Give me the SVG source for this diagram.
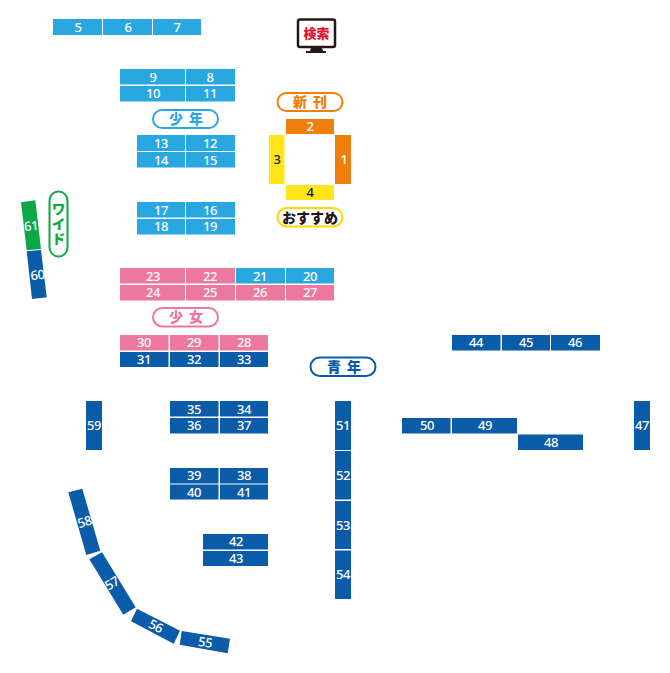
<svg xmlns="http://www.w3.org/2000/svg" width="670" height="673" viewBox="0 0 670 673">
<style>
text{font-family:"Noto Sans","Noto Sans CJK JP",sans-serif;font-size:13px;font-weight:500;text-anchor:middle;fill:#fff;letter-spacing:-0.4px}
.c{fill:#29a7e1}.n{fill:#0a5ba8}.p{fill:#ec789f}.o{fill:#ee7f0a}.y{fill:#ffe61a}.g{fill:#0ca848}
.k{fill:#231815}
.pill{fill:#fff;stroke-width:2}
text.lab{font-family:"Noto Sans CJK JP",sans-serif;font-size:14px;font-weight:900;letter-spacing:0;word-spacing:3px}
</style>
<rect width="670" height="673" fill="#fff"/>
<g id="nodes">
<g id="s5"><rect class="c" x="53" y="19" width="49" height="16"/><text x="78" y="32">5</text></g>
<g id="s6"><rect class="c" x="103" y="19" width="49" height="16"/><text x="128" y="32">6</text></g>
<g id="s7"><rect class="c" x="153" y="19" width="48" height="16"/><text x="177" y="32">7</text></g>
<g id="s9"><rect class="c" x="120" y="69" width="65" height="15.5"/><text x="153" y="81.500">9</text></g>
<g id="s8"><rect class="c" x="186" y="69" width="49" height="15.5"/><text x="210" y="81.500">8</text></g>
<g id="s10"><rect class="c" x="120" y="86" width="65" height="15.500"/><text x="153" y="98">10</text></g>
<g id="s11"><rect class="c" x="186" y="86" width="49" height="15.500"/><text x="210" y="98">11</text></g>
<g id="s13"><rect class="c" x="137" y="135" width="48" height="16"/><text x="161" y="148">13</text></g>
<g id="s12"><rect class="c" x="186" y="135" width="49" height="16"/><text x="210" y="148">12</text></g>
<g id="s14"><rect class="c" x="137" y="152" width="48" height="15.500"/><text x="161" y="164.500">14</text></g>
<g id="s15"><rect class="c" x="186" y="152" width="49" height="15.500"/><text x="210" y="164.500">15</text></g>
<g id="s17"><rect class="c" x="137" y="202" width="48" height="15.500"/><text x="161" y="214.500">17</text></g>
<g id="s16"><rect class="c" x="186" y="202" width="49" height="15.500"/><text x="210" y="214.500">16</text></g>
<g id="s18"><rect class="c" x="137" y="219" width="48" height="15.500"/><text x="161" y="231">18</text></g>
<g id="s19"><rect class="c" x="186" y="219" width="49" height="15.500"/><text x="210" y="231">19</text></g>
<g id="s23"><rect class="p" x="120" y="268" width="65" height="15.500"/><text x="153" y="280.500">23</text></g>
<g id="s22"><rect class="p" x="186" y="268" width="49" height="15.500"/><text x="210" y="280.500">22</text></g>
<g id="s21"><rect class="c" x="236" y="268" width="49" height="15.500"/><text x="260" y="280.500">21</text></g>
<g id="s20"><rect class="c" x="286" y="268" width="48" height="15.500"/><text x="310" y="280.500">20</text></g>
<g id="s24"><rect class="p" x="120" y="285" width="65" height="15.500"/><text x="153" y="297">24</text></g>
<g id="s25"><rect class="p" x="186" y="285" width="49" height="15.500"/><text x="210" y="297">25</text></g>
<g id="s26"><rect class="p" x="236" y="285" width="49" height="15.500"/><text x="260" y="297">26</text></g>
<g id="s27"><rect class="p" x="286" y="285" width="48" height="15.500"/><text x="310" y="297">27</text></g>
<g id="s30"><rect class="p" x="120" y="335" width="48.500" height="15.500"/><text x="144" y="347">30</text></g>
<g id="s29"><rect class="p" x="170" y="335" width="48.500" height="15.500"/><text x="194" y="347">29</text></g>
<g id="s28"><rect class="p" x="220" y="335" width="48" height="15.500"/><text x="244" y="347">28</text></g>
<g id="s31"><rect class="n" x="120" y="352" width="48.500" height="15"/><text x="144" y="364">31</text></g>
<g id="s32"><rect class="n" x="170" y="352" width="48.500" height="15"/><text x="194" y="364">32</text></g>
<g id="s33"><rect class="n" x="220" y="352" width="48" height="15"/><text x="244" y="364">33</text></g>
<g id="s44"><rect class="n" x="452" y="335" width="48.500" height="15.500"/><text x="476" y="347">44</text></g>
<g id="s45"><rect class="n" x="502" y="335" width="48" height="15.500"/><text x="526" y="347">45</text></g>
<g id="s46"><rect class="n" x="551" y="335" width="49" height="15.500"/><text x="575" y="347">46</text></g>
<g id="s35"><rect class="n" x="170" y="401" width="48.500" height="15.500"/><text x="194" y="413.500">35</text></g>
<g id="s34"><rect class="n" x="220" y="401" width="48" height="15.500"/><text x="244" y="413.500">34</text></g>
<g id="s36"><rect class="n" x="170" y="418" width="48.500" height="15.500"/><text x="194" y="430">36</text></g>
<g id="s37"><rect class="n" x="220" y="418" width="48" height="15.500"/><text x="244" y="430">37</text></g>
<g id="s39"><rect class="n" x="170" y="468" width="48.500" height="15.500"/><text x="194" y="480">39</text></g>
<g id="s38"><rect class="n" x="220" y="468" width="48" height="15.500"/><text x="244" y="480">38</text></g>
<g id="s40"><rect class="n" x="170" y="484.500" width="48.500" height="15"/><text x="194" y="496.500">40</text></g>
<g id="s41"><rect class="n" x="220" y="484.500" width="48" height="15"/><text x="244" y="496.500">41</text></g>
<g id="s42"><rect class="n" x="203" y="534" width="65" height="15.500"/><text x="236" y="546">42</text></g>
<g id="s43"><rect class="n" x="203" y="551" width="65" height="15"/><text x="236" y="563">43</text></g>
<g id="s50"><rect class="n" x="402" y="418" width="48.500" height="15.500"/><text x="427" y="430">50</text></g>
<g id="s49"><rect class="n" x="452" y="418" width="65" height="15.500"/><text x="485" y="430">49</text></g>
<g id="s48"><rect class="n" x="518" y="434.500" width="65" height="15.500"/><text x="551" y="446.500">48</text></g>
<g id="s59"><rect class="n" x="86" y="401" width="16" height="49"/><text x="94" y="430">59</text></g>
<g id="s51"><rect class="n" x="335" y="401" width="16" height="49"/><text x="343" y="430">51</text></g>
<g id="s52"><rect class="n" x="335" y="451" width="16" height="48.500"/><text x="343" y="480">52</text></g>
<g id="s53"><rect class="n" x="335" y="501" width="16" height="48"/><text x="343" y="530">53</text></g>
<g id="s54"><rect class="n" x="335" y="550.500" width="16" height="48.500"/><text x="343" y="579">54</text></g>
<g id="s47"><rect class="n" x="634" y="401" width="16" height="49"/><text x="642" y="430">47</text></g>
<g id="s1"><rect class="o" x="335" y="135" width="16" height="49"/><text x="344" y="164">1</text></g>
<g id="s2"><rect class="o" x="286" y="119" width="48" height="15"/><text x="310" y="131">2</text></g>
<g id="s3"><rect class="y" x="269" y="135" width="15.500" height="49"/><text class="k" x="277" y="164">3</text></g>
<g id="s4"><rect class="y" x="286" y="185" width="48" height="15"/><text class="k" x="310" y="197">4</text></g>
<g id="s58"><polygon class="n" points="68.300,492.300 82.300,488.700 100.300,550.700 86.300,555"/><text transform="translate(85.800,526.300) rotate(-16)">58</text></g>
<g id="s57"><polygon class="n" points="89.300,559.300 102,552.300 135.700,607.300 123.300,614.700"/><text transform="translate(114.300,587.200) rotate(-31)">57</text></g>
<g id="s56"><polygon class="n" points="137,608.700 180,630.700 173.700,643.700 131,621.300"/><text transform="translate(153.800,630.200) rotate(27)">56</text></g>
<g id="s55"><polygon class="n" points="181.700,631 230,638.700 227.700,653.300 179.700,644.700"/><text transform="translate(204.500,646.800) rotate(9)">55</text></g>
<g id="s61"><polygon class="g" points="21,202.300 35.300,200.300 41,249 26.700,250.300"/><text transform="translate(31.500,230.500) rotate(-6)">61</text></g>
<g id="s60"><polygon class="n" points="26.700,251.300 41,250 46.700,297.300 32,299"/><text transform="translate(38,279.500) rotate(-6)">60</text></g>
<g id="label-shonen"><rect class="pill" x="153" y="110" width="65" height="18" rx="9" stroke="#29a7e1"/><text class="lab" x="186" y="124" style="fill:#29a7e1">少 年</text></g>
<g id="label-shinkan"><rect class="pill" x="277.500" y="93" width="65" height="18" rx="9" stroke="#ee7f0a"/><text class="lab" x="310" y="107" style="fill:#ee7f0a">新 刊</text></g>
<g id="label-osusume"><rect class="pill" x="277.500" y="208" width="65" height="18.500" rx="9.250" stroke="#ffd800"/><text class="lab" x="310" y="222.500" style="fill:#231815">おすすめ</text></g>
<g id="label-shojo"><rect class="pill" x="153" y="308" width="65" height="18.500" rx="9.250" stroke="#ec789f"/><text class="lab" x="186" y="322" style="fill:#ec789f">少 女</text></g>
<g id="label-seinen"><rect class="pill" x="310.500" y="357.500" width="65" height="18.500" rx="9.250" stroke="#0a5ba8"/><text class="lab" x="344" y="372" style="fill:#0a5ba8">青 年</text></g>
<g id="label-wide"><rect class="pill" x="49.500" y="191.500" width="18" height="65" rx="9" stroke="#0ca848"/><text class="lab" x="58.500" y="224" style="fill:#0ca848;writing-mode:vertical-rl;letter-spacing:1px">ワイド</text></g>
<g id="search">
<rect x="298" y="19.500" width="37" height="27.500" rx="2" fill="#fff" stroke="#231815" stroke-width="2.500"/>
<path class="k" d="M311 48h11l1 3h3v2h-20v-2h4z"/>
<text x="316.500" y="38" style="font-family:'Noto Sans CJK JP',sans-serif;font-size:13px;font-weight:900;fill:#e60f2d;letter-spacing:0">検索</text>
</g>
</g>
<g id="connectors"></g>
</svg>
